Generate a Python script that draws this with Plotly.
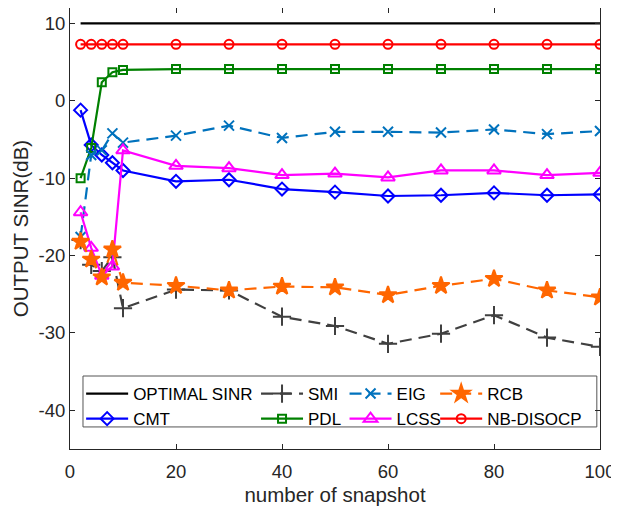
import plotly.graph_objects as go

snapshots = [2, 4, 6, 8, 10, 20, 30, 40, 50, 60, 70, 80, 90, 100]
optimal_sinr = [10] * 14
smi = [-18.0, -21.2, -22.0, -20.2, -26.8, -24.4, -24.5, -27.9, -29.1, -31.4, -30.1, -27.7, -30.6, -31.8]
eig = [-17.6, -7.0, -6.4, -4.2, -5.4, -4.5, -3.2, -4.8, -4.0, -4.0, -4.1, -3.7, -4.3, -3.9]
rcb = [-18.2, -20.5, -22.8, -19.2, -23.5, -23.9, -24.5, -24.0, -24.1, -25.1, -23.9, -23.0, -24.5, -25.4]
cmt = [-1.2, -5.7, -7.0, -8.0, -9.0, -10.4, -10.2, -11.4, -11.8, -12.3, -12.2, -11.9, -12.2, -12.1]
pdl = [-10.0, -6.1, 2.4, 3.7, 4.0, 4.1, 4.1, 4.1, 4.1, 4.1, 4.1, 4.1, 4.1, 4.1]
lcss = [-14.4, -19.0, -22.6, -21.4, -6.4, -8.4, -8.7, -9.6, -9.4, -9.9, -9.0, -9.0, -9.6, -9.3]
nb_disocp = [7.3] * 14

x_ticks = [0, 20, 40, 60, 80, 100]
x_tick_labels = ["0", "20", "40", "60", "80", "100"]
y_ticks = [-40, -30, -20, -10, 0, 10]
y_tick_labels = ["-40", "-30", "-20", "-10", "0", "10"]

FONT = "Liberation Sans, Arial, sans-serif"
DASH = "12px,7px"

fig = go.Figure()

def add(name, y, color, dash, symbol, size, legend, mode="lines+markers"):
    fig.add_trace(go.Scatter(
        x=snapshots, y=y, name=name, mode=mode, legend=legend,
        line=dict(color=color, width=2.2, dash=dash),
        marker=dict(symbol=symbol, size=size, color=color,
                    line=dict(color=color, width=2)),
    ))

add("OPTIMAL SINR", optimal_sinr, "#000000", "solid", "circle", 1, "legend", mode="lines")
add("CMT", cmt, "#0000FF", "solid", "diamond-open", 10, "legend")
add("SMI", smi, "#404040", DASH, "cross-thin-open", 13, "legend2")
add("PDL", pdl, "#008000", "solid", "square-open", 8, "legend2")
add("EIG", eig, "#0072BD", DASH, "x-thin-open", 10, "legend3")
add("LCSS", lcss, "#FF00FF", "solid", "triangle-up-open", 12, "legend3")
add("RCB", rcb, "#FF6600", DASH, "star", 13, "legend4")
add("NB-DISOCP", nb_disocp, "#FF0000", "solid", "circle-open", 9, "legend4")

leg_common = dict(bgcolor="rgba(0,0,0,0)", borderwidth=0, font=dict(family=FONT, size=17, color="#000"),
                  orientation="v", xanchor="left", yanchor="top", yref="paper", tracegroupgap=0,
                  itemwidth=42)
fig.update_layout(
    legend=dict(x=0.021, y=0.1655, **leg_common),
    legend2=dict(x=0.351, y=0.1655, **leg_common),
    legend3=dict(x=0.518, y=0.1655, **leg_common),
    legend4=dict(x=0.689, y=0.1655, **leg_common),
)

fig.add_shape(type="rect", xref="paper", yref="paper", x0=0.0245, x1=0.994, y0=0.05, y1=0.1655,
              line=dict(color="#555", width=1), fillcolor="white", layer="below")

axis_common = dict(showline=True, mirror="ticks", linecolor="#262626", linewidth=1,
                   ticks="inside", ticklen=5, tickcolor="#262626", showgrid=False, zeroline=False,
                   automargin=False,
                   tickfont=dict(family=FONT, size=18.5, color="#262626"))
fig.update_xaxes(range=[0, 100], tickvals=x_ticks, ticktext=x_tick_labels, ticklabelstandoff=6,
                 title=dict(text="number of snapshot", font=dict(family=FONT, size=20.5, color="#262626"), standoff=21),
                 **axis_common)
fig.update_yaxes(range=[-45, 12], tickvals=y_ticks, ticktext=y_tick_labels,
                 title=dict(text="OUTPUT SINR(dB)", font=dict(family=FONT, size=20.5, color="#262626"), standoff=4),
                 **axis_common)

# page body has an 8px margin, so the figure is sized to the visible area
fig.update_layout(
    width=611, height=498,
    margin=dict(l=62, r=19, t=0, b=57),
    plot_bgcolor="white", paper_bgcolor="white",
    font=dict(family=FONT),
)

fig.write_html("out.html")
